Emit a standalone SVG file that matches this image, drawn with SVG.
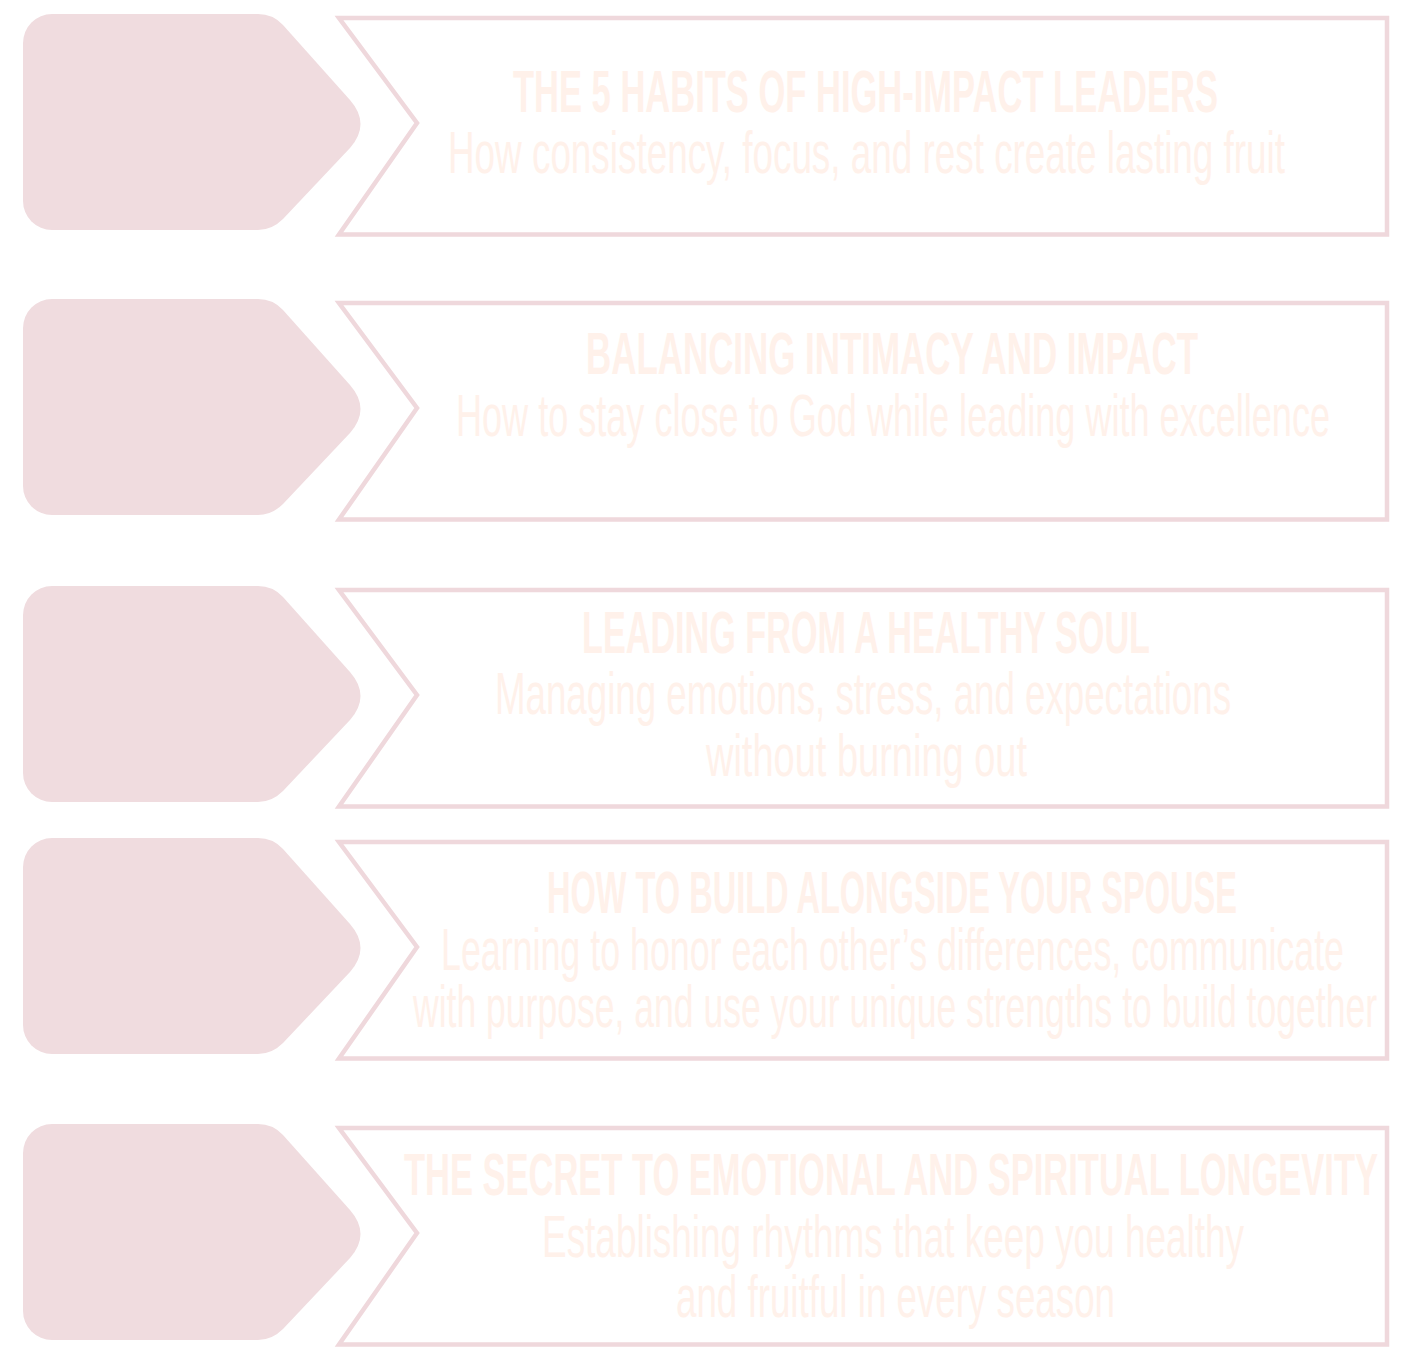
<svg xmlns="http://www.w3.org/2000/svg" xmlns:xlink="http://www.w3.org/1999/xlink" width="1414" height="1366" viewBox="0 0 1414 1366">
<style>
.tag{fill:#f0dcdf;}
.frame{fill:#ffffff;stroke:#efd8dc;stroke-width:4.5;stroke-linejoin:miter;stroke-miterlimit:10;}
.t{font-family:"Liberation Sans Narrow","Liberation Sans",Arial,sans-serif;font-weight:bold;font-size:59px;fill:#fff1ea;}
.s{font-family:"Liberation Sans Narrow","Liberation Sans",Arial,sans-serif;font-weight:normal;font-size:60px;fill:#fff1ea;}
</style>
<defs>
<path id="tagShape" d="M23,29 A29,29 0 0 1 52,0 L258,0 Q273,0 283,11 L350,86 Q371,110 350,134 L283,205 Q272,216 258,216 L52,216 A29,29 0 0 1 23,187 Z"/>
<path id="frameShape" d="M339,4 L1387,4 L1387,220.5 L339,220.5 L417,109 Z"/>
</defs>
<rect width="1414" height="1366" fill="#ffffff"/>
<g id="row1">
<use href="#tagShape" xlink:href="#tagShape" class="tag" transform="translate(0,14)"/>
<use href="#frameShape" xlink:href="#frameShape" class="frame" transform="translate(0,14)"/>
<text class="t" x="513" y="112" textLength="705" lengthAdjust="spacingAndGlyphs">THE 5 HABITS OF HIGH-IMPACT LEADERS</text>
<text class="s" x="448" y="173" textLength="837" lengthAdjust="spacingAndGlyphs">How consistency, focus, and rest create lasting fruit</text>
</g>
<g id="row2">
<use href="#tagShape" xlink:href="#tagShape" class="tag" transform="translate(0,299)"/>
<use href="#frameShape" xlink:href="#frameShape" class="frame" transform="translate(0,299)"/>
<text class="t" x="586" y="374" textLength="612" lengthAdjust="spacingAndGlyphs">BALANCING INTIMACY AND IMPACT</text>
<text class="s" x="456" y="436" textLength="874" lengthAdjust="spacingAndGlyphs">How to stay close to God while leading with excellence</text>
</g>
<g id="row3">
<use href="#tagShape" xlink:href="#tagShape" class="tag" transform="translate(0,586)"/>
<use href="#frameShape" xlink:href="#frameShape" class="frame" transform="translate(0,586)"/>
<text class="t" x="582" y="653" textLength="568" lengthAdjust="spacingAndGlyphs">LEADING FROM A HEALTHY SOUL</text>
<text class="s" x="495" y="714" textLength="736" lengthAdjust="spacingAndGlyphs">Managing emotions, stress, and expectations</text>
<text class="s" x="706" y="776" textLength="321" lengthAdjust="spacingAndGlyphs">without burning out</text>
</g>
<g id="row4">
<use href="#tagShape" xlink:href="#tagShape" class="tag" transform="translate(0,838)"/>
<use href="#frameShape" xlink:href="#frameShape" class="frame" transform="translate(0,838)"/>
<text class="t" x="547" y="913" textLength="690" lengthAdjust="spacingAndGlyphs">HOW TO BUILD ALONGSIDE YOUR SPOUSE</text>
<text class="s" x="441" y="970" textLength="903" lengthAdjust="spacingAndGlyphs">Learning to honor each other’s differences, communicate</text>
<text class="s" x="413" y="1027" textLength="964" lengthAdjust="spacingAndGlyphs">with purpose, and use your unique strengths to build together</text>
</g>
<g id="row5">
<use href="#tagShape" xlink:href="#tagShape" class="tag" transform="translate(0,1124)"/>
<use href="#frameShape" xlink:href="#frameShape" class="frame" transform="translate(0,1124)"/>
<text class="t" x="404" y="1195" textLength="974" lengthAdjust="spacingAndGlyphs">THE SECRET TO EMOTIONAL AND SPIRITUAL LONGEVITY</text>
<text class="s" x="542" y="1257" textLength="702" lengthAdjust="spacingAndGlyphs">Establishing rhythms that keep you healthy</text>
<text class="s" x="676" y="1317" textLength="439" lengthAdjust="spacingAndGlyphs">and fruitful in every season</text>
</g>
</svg>
